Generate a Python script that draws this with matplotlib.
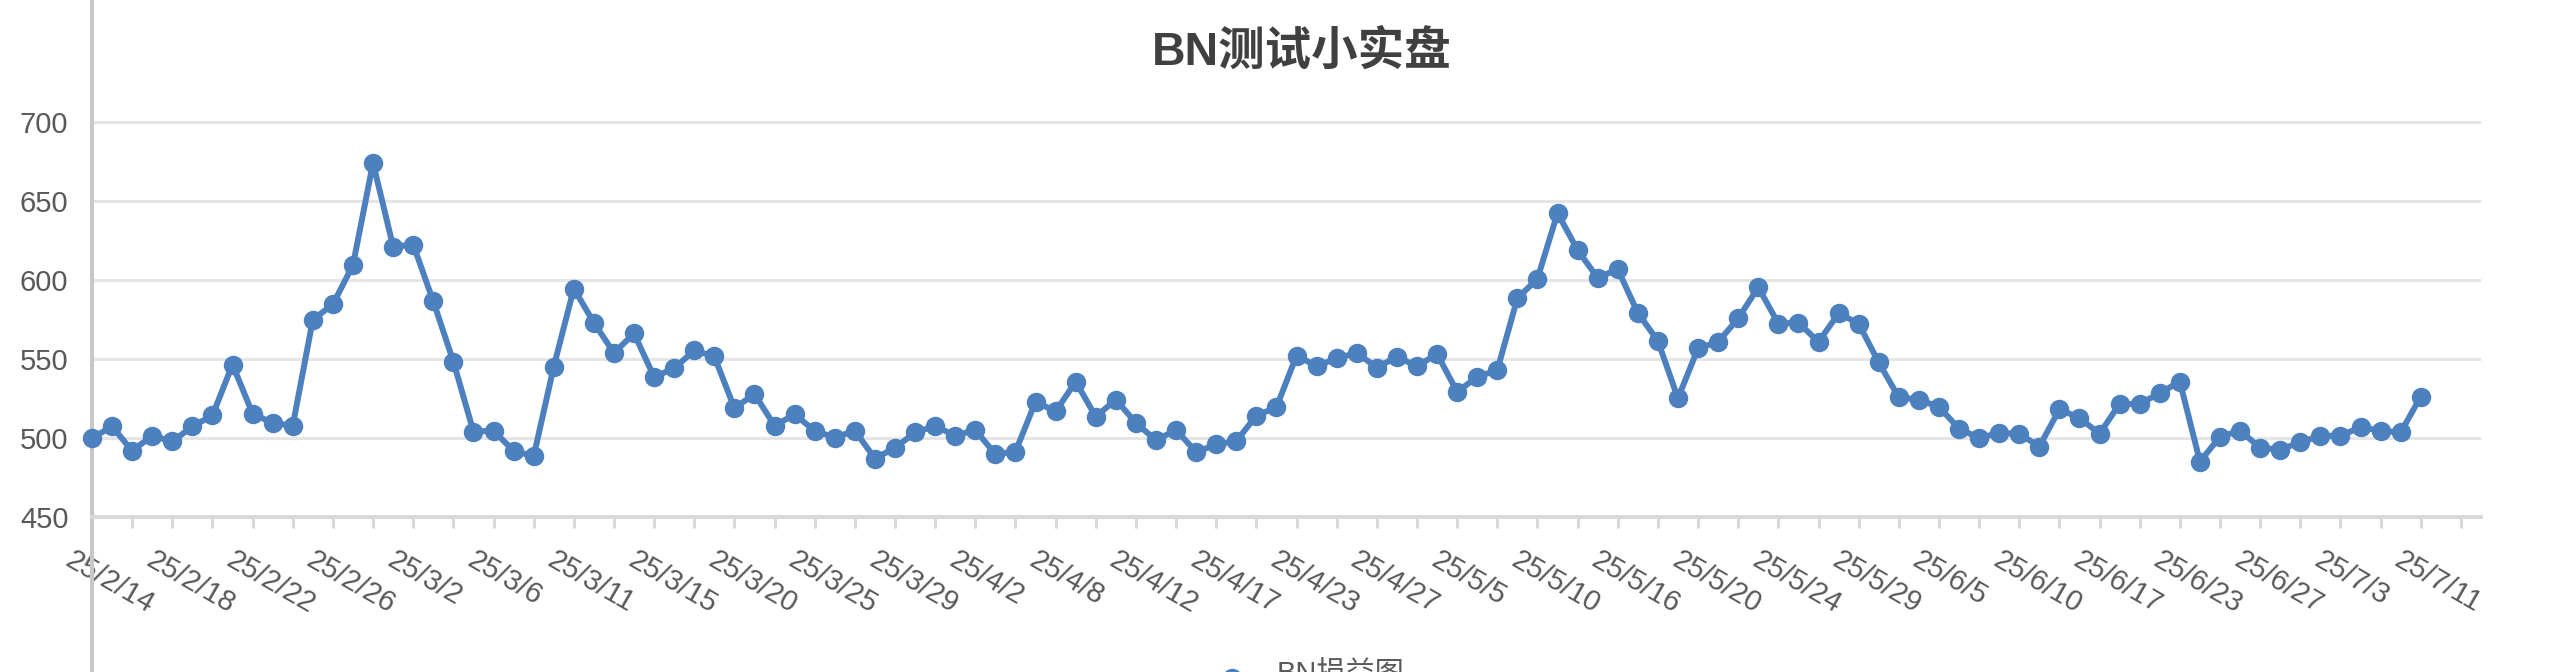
import matplotlib
matplotlib.use("Agg")
import matplotlib.pyplot as plt
from matplotlib.lines import Line2D
from matplotlib.transforms import blended_transform_factory, ScaledTranslation

plt.rcParams['font.family'] = ['Liberation Sans', 'Noto Sans CJK SC', 'DejaVu Sans']

title = "BN测试小实盘"
series_name = "BN损益图"

tick_labels = ["25/2/14", "25/2/18", "25/2/22", "25/2/26", "25/3/2", "25/3/6",
               "25/3/11", "25/3/15", "25/3/20", "25/3/25", "25/3/29", "25/4/2",
               "25/4/8", "25/4/12", "25/4/17", "25/4/23", "25/4/27", "25/5/5",
               "25/5/10", "25/5/16", "25/5/20", "25/5/24", "25/5/29", "25/6/5",
               "25/6/10", "25/6/17", "25/6/23", "25/6/27", "25/7/3", "25/7/11"]

values = [500.0, 507.3, 491.9, 501.4, 497.8, 507.3, 514.3, 546.5, 515.4, 509.5,
          507.8, 574.9, 584.6, 609.5, 674.1, 621.1, 622.4, 586.5, 548.4, 504.1,
          504.6, 491.9, 488.4, 545.1, 594.6, 573.0, 553.8, 566.2, 538.6, 544.1,
          555.4, 551.6, 518.9, 527.8, 507.8, 514.9, 504.6, 500.3, 504.6, 487.0,
          493.8, 503.5, 507.6, 501.4, 505.1, 489.7, 491.4, 523.0, 516.8, 535.7,
          513.5, 524.3, 509.5, 498.6, 505.1, 491.1, 495.9, 498.1, 514.1, 519.5,
          552.2, 545.4, 550.5, 553.8, 544.6, 551.4, 545.4, 553.2, 529.2, 538.6,
          543.0, 588.4, 600.8, 642.4, 618.9, 601.4, 606.8, 579.2, 561.4, 525.1,
          556.8, 560.8, 575.7, 595.4, 572.4, 573.0, 560.8, 578.9, 572.4, 547.8,
          525.7, 524.3, 519.7, 505.9, 500.0, 503.2, 502.7, 494.6, 518.1, 512.7,
          502.7, 521.6, 521.6, 528.4, 535.7, 485.1, 500.8, 504.6, 493.8, 492.7,
          497.3, 501.4, 501.4, 506.8, 504.6, 503.5, 526.2]

y_ticks = [450, 500, 550, 600, 650, 700]

W, H = 2550, 672
fig = plt.figure(figsize=(W / 100, H / 100), dpi=100)
left, right, bottom, top = 92, 2481, 517, 43
ax = fig.add_axes([left / W, 1 - bottom / H, (right - left) / W, (bottom - top) / H])

blue = '#4c80bf'
xs = list(range(len(values)))
ax.plot(xs, values, color=blue, lw=4.3, marker='o', ms=13, zorder=3, clip_on=False)

ax.set_xlim(0, 119)
ax.set_ylim(450, 750)
ax.set_yticks(y_ticks)
ax.set_yticklabels([str(v) for v in y_ticks])
ax.yaxis.grid(True, color='#e5e5e5', lw=2.2, zorder=0)
ax.set_axisbelow(True)
ax.tick_params(axis='y', length=0, pad=17, labelsize=21, labelcolor='#595959')

ax.set_xticks(list(range(0, 119, 2)))
ax.set_xticklabels([])
ax.tick_params(axis='x', length=8, width=2.2, color='#d9d9d9', direction='out')

for s in ['top', 'right', 'left']:
    ax.spines[s].set_visible(False)
ax.spines['bottom'].set_color('#d9d9d9')
ax.spines['bottom'].set_linewidth(2.9)

trans = blended_transform_factory(ax.transData, ax.transAxes) + \
    ScaledTranslation(-17 / 100, -29 / 100, fig.dpi_scale_trans)
for k, lab in enumerate(tick_labels):
    ax.text(4 * k, 0, lab, transform=trans, rotation=-30, rotation_mode='anchor',
            ha='left', va='top', fontsize=21, color='#595959', clip_on=False, zorder=1)

# full-height vertical axis line
ax.plot([0, 0], [-0.5, 1.5], transform=ax.transAxes, color='#c8c8c8', lw=2.9,
        clip_on=False, zorder=1.5)

fig.text(1302 / W, 1 - 65 / H, title, ha='center', va='baseline', fontsize=33.5,
         fontweight='bold', color='#404040')

# legend (partially cut at the bottom edge)
fig.add_artist(Line2D([1232 / W], [1 - 678 / H], marker='o', ms=13, color=blue,
                      transform=fig.transFigure, clip_on=False))
fig.text(1277 / W, 1 - 661 / H, series_name, ha='left', va='top', fontsize=21,
         color='#595959')

fig.savefig('out.png', dpi=100, facecolor='white')
